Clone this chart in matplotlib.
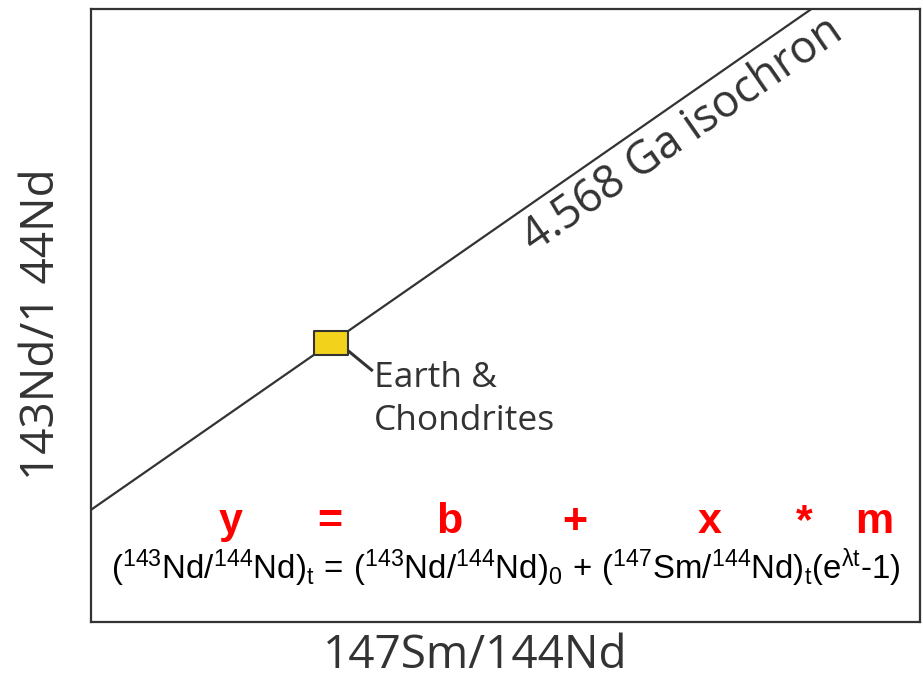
import matplotlib
matplotlib.use("Agg")
import matplotlib.pyplot as plt

# ---- data (axes-fraction units) ----
iso_x = [0.0, 0.869]
iso_y = [0.183, 1.0]
earth_x = [0.2895]
earth_y = [0.455]
iso_label = "4.568 Ga isochron"
earth_label = "Earth &\nChondrites"
xlabel = "147Sm/144Nd"
ylabel = "143Nd/1 44Nd"
red_terms = ["y", "=", "b", "+", "x", "*", "m"]
red_pos = [0.168, 0.288, 0.432, 0.584, 0.746, 0.860, 0.945]

plt.rcParams['font.family'] = ['Open Sans', 'DejaVu Sans']
plt.rcParams['mathtext.fontset'] = 'custom'
plt.rcParams['mathtext.rm'] = 'Liberation Sans'
plt.rcParams['mathtext.it'] = 'Liberation Sans'
plt.rcParams['mathtext.bf'] = 'Liberation Sans:bold'

dark = '#333333'
fig = plt.figure(figsize=(9.23, 6.78), dpi=100)
ax = fig.add_axes([91/923, 56/678, 829/923, 613/678])
ax.set_xlim(0, 1)
ax.set_ylim(0, 1)
ax.set_xticks([])
ax.set_yticks([])
for s in ax.spines.values():
    s.set_color(dark)
    s.set_linewidth(1.6)

ax.plot(iso_x, iso_y, color=dark, lw=1.6, clip_on=True, zorder=2)

rect = [(-1.38, -1), (1.38, -1), (1.38, 1), (-1.38, 1), (-1.38, -1)]
ax.plot(earth_x, earth_y, marker=rect, markersize=24, color='#f2d21b',
        markeredgecolor=dark, markeredgewidth=1.5, linestyle='none', zorder=3)

# leader line
ax.plot([0.3106, 0.3385], [0.442, 0.411], color=dark, lw=2.2, zorder=2)
ax.text(0.341, 0.426, earth_label, fontsize=25.5, color=dark, ha='left', va='top',
        linespacing=1.37)

ax.text(0.714, 0.795, iso_label, fontsize=32.5, color=dark, rotation=34.8,
        rotation_mode='anchor', ha='center', va='center')

for t, p in zip(red_terms, red_pos):
    ax.text(p, 0.163, t, fontsize=31, color='#ff0000', fontweight='bold',
            ha='center', va='center', family='Liberation Sans')

eq = (r"$(^{143}\mathrm{Nd}/^{144}\mathrm{Nd})_\mathrm{t}\,=\,(^{143}\mathrm{Nd}/^{144}\mathrm{Nd})_0\,+\,"
      r"(^{147}\mathrm{Sm}/^{144}\mathrm{Nd})_\mathrm{t}(\mathrm{e}^{\lambda \mathrm{t}}\mathrm{\text{-}1})$")
ax.text(0.5, 0.088, eq, fontsize=23.8, color='black', ha='center', va='center')

fig.text(475/923, 1 - 656/678, xlabel, fontsize=33, color=dark, ha='center', va='center')
fig.text(42/923, 1 - 324/678, ylabel, fontsize=33, color=dark, ha='center', va='center',
         rotation=90)

fig.savefig("out.png", dpi=100)
